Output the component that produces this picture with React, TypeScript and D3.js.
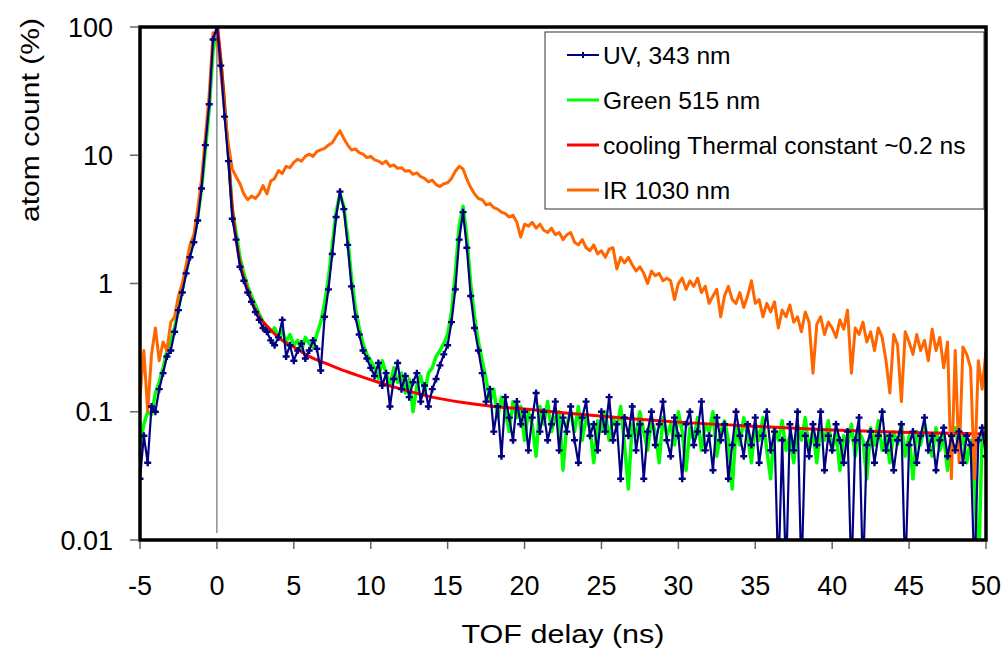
import React from "react";
import * as d3 from "d3";

// sampling grid of the measured traces (ns)
const T_START = -5;
const T_STEP = 0.25;

// UV, 343 nm  (one row per ns: t, t+.25, t+.5, t+.75)
const uv = [
  0.03, 0.065, 0.04, 0.11,
  0.1, 0.15, 0.2, 0.27,
  0.3, 0.42, 0.62, 0.85,
  1.2, 1.6, 2.1, 3.1,
  5.5, 12, 25, 80,
  100, 50, 20, 9,
  3.2, 2.2, 1.35, 1.05,
  0.85, 0.72, 0.6, 0.52,
  0.45, 0.42, 0.36, 0.33,
  0.38, 0.52, 0.27, 0.33,
  0.25, 0.3, 0.34, 0.26,
  0.3, 0.36, 0.31, 0.21,
  0.55, 0.9, 1.7, 3.3,
  5.2, 3.8, 2.0, 0.95,
  0.55, 0.4, 0.3, 0.26,
  0.22, 0.19, 0.24, 0.16,
  0.2, 0.11, 0.18, 0.24,
  0.15, 0.19, 0.13, 0.17,
  0.2, 0.12, 0.16, 0.11,
  0.15, 0.18, 0.23, 0.28,
  0.33, 0.5, 0.9, 2.2,
  3.6, 1.9, 0.8, 0.45,
  0.3, 0.2, 0.12, 0.15,
  0.07, 0.11, 0.045, 0.13,
  0.09, 0.06, 0.12, 0.08,
  0.1, 0.05, 0.09, 0.14,
  0.07, 0.1, 0.06, 0.08,
  0.12, 0.05, 0.09, 0.07,
  0.11, 0.06, 0.04, 0.09,
  0.12, 0.065, 0.08, 0.05,
  0.1, 0.07, 0.13, 0.06,
  0.08, 0.03, 0.09, 0.065,
  0.11, 0.05, 0.08, 0.03,
  0.07, 0.1, 0.055, 0.08,
  0.12, 0.06, 0.045, 0.09,
  0.065, 0.03, 0.08, 0.1,
  0.055, 0.07, 0.12, 0.05,
  0.065, 0.035, 0.09, 0.06,
  0.08, 0.03, 0.055, 0.1,
  0.065, 0.045, 0.08, 0.055,
  0.09, 0.04, 0.065, 0.1,
  0.05, 0.07, 0.005, 0.06,
  0.005, 0.08, 0.05, 0.1,
  0.005, 0.065, 0.045, 0.08,
  0.055, 0.1, 0.035, 0.065,
  0.05, 0.08, 0.06, 0.04,
  0.07, 0.005, 0.06, 0.09,
  0.005, 0.055, 0.07, 0.04,
  0.065, 0.1, 0.05, 0.065,
  0.035, 0.06, 0.08, 0.005,
  0.055, 0.07, 0.04, 0.065,
  0.09, 0.05, 0.065, 0.035,
  0.06, 0.075, 0.045, 0.065,
  0.05, 0.07, 0.04, 0.065,
  0.055, 0.005, 0.06, 0.075,
  0.045,
];

// Green 515 nm
const green = [
  0.055, 0.08, 0.1, 0.095,
  0.14, 0.17, 0.22, 0.3,
  0.36, 0.45, 0.65, 0.9,
  1.25, 1.7, 2.2, 3.3,
  5.5, 11, 23, 65,
  98, 55, 24, 10,
  3.8, 2.5, 1.6, 1.2,
  0.95, 0.8, 0.68, 0.58,
  0.5, 0.46, 0.42, 0.45,
  0.38, 0.43, 0.35, 0.4,
  0.33, 0.36, 0.3, 0.38,
  0.34, 0.32, 0.4, 0.5,
  0.7, 1.1, 2.0, 3.6,
  5.0, 4.0, 2.3, 1.1,
  0.65, 0.45, 0.34, 0.28,
  0.25, 0.22, 0.18, 0.25,
  0.2, 0.16, 0.22, 0.17,
  0.2, 0.14, 0.18, 0.1,
  0.16, 0.19, 0.14, 0.2,
  0.22, 0.27, 0.3, 0.34,
  0.4, 0.6, 1.2, 2.8,
  4.0, 2.3, 1.0, 0.55,
  0.35, 0.25, 0.18, 0.12,
  0.15, 0.09, 0.13, 0.1,
  0.07, 0.12, 0.09, 0.11,
  0.06, 0.1, 0.08, 0.045,
  0.11, 0.08, 0.12, 0.07,
  0.09, 0.1, 0.035, 0.08,
  0.1, 0.07, 0.11, 0.06,
  0.09, 0.075, 0.04, 0.085,
  0.07, 0.1, 0.06, 0.09,
  0.075, 0.11, 0.055, 0.025,
  0.08, 0.065, 0.1, 0.07,
  0.05, 0.085, 0.07, 0.04,
  0.09, 0.065, 0.08, 0.055,
  0.1, 0.07, 0.035, 0.075,
  0.06, 0.09, 0.05, 0.08,
  0.07, 0.1, 0.045, 0.07,
  0.085, 0.06, 0.025, 0.075,
  0.055, 0.09, 0.065, 0.04,
  0.08, 0.06, 0.09, 0.05,
  0.03, 0.075, 0.06, 0.085,
  0.05, 0.065, 0.04, 0.08,
  0.06, 0.09, 0.05, 0.07,
  0.04, 0.075, 0.06, 0.085,
  0.05, 0.07, 0.035, 0.065,
  0.055, 0.08, 0.045, 0.07,
  0.06, 0.03, 0.075, 0.055,
  0.085, 0.05, 0.065, 0.04,
  0.07, 0.055, 0.08, 0.045,
  0.065, 0.03, 0.07, 0.055,
  0.08, 0.06, 0.045, 0.075,
  0.05, 0.065, 0.035, 0.06,
  0.075, 0.05, 0.065, 0.04,
  0.06, 0.03, 0.005, 0.065,
  0.07,
];

// IR 1030 nm
const ir = [
  0.13, 0.3, 0.1, 0.28,
  0.45, 0.25, 0.35, 0.3,
  0.5, 0.55, 0.8, 1.0,
  1.4, 2.0, 2.4, 3.8,
  6.5, 14, 30, 90,
  85, 45, 22, 12,
  7.8, 6.8, 6.0, 5.0,
  4.5, 4.8, 4.6, 5.0,
  5.8, 5.0, 6.3, 6.6,
  7.6, 7.2, 8.2, 8.0,
  8.8, 9.3, 9.0, 9.8,
  10.2, 9.8, 10.7, 11,
  11.3, 12, 12.5, 14,
  15.5, 13.5, 12, 11,
  11.2, 10.5, 10.2, 9.6,
  9.8, 9.2, 9.0, 8.6,
  9.0, 8.2, 8.4, 7.9,
  8.0, 7.5, 7.6, 7.1,
  7.3, 6.8, 6.6, 6.2,
  6.4, 5.9, 5.7, 6.0,
  6.1, 6.6, 7.5, 8.2,
  7.8, 6.5, 5.6, 5.0,
  4.6, 4.5, 4.1, 4.2,
  3.9, 3.8, 3.6, 3.5,
  3.3, 3.4, 3.0, 2.3,
  2.9, 2.8, 3.0, 2.7,
  2.9, 2.6, 2.5, 2.7,
  2.4, 2.5, 2.2, 2.4,
  2.5, 2.1, 2.0, 2.2,
  1.9, 1.8, 2.0, 1.7,
  1.8, 1.6, 1.85, 1.9,
  1.3, 1.6, 1.45, 1.6,
  1.4, 1.25, 1.35, 1.2,
  1.0, 1.25, 1.15, 1.2,
  1.05, 1.1, 1.05, 0.75,
  1.0, 1.1, 0.9, 1.05,
  0.95, 1.1, 0.85, 0.95,
  0.7, 0.8, 0.9, 0.55,
  0.8, 0.95, 0.75, 0.7,
  0.85, 0.65, 0.8, 1.05,
  0.7, 0.75, 0.55, 0.7,
  0.6, 0.72, 0.45, 0.62,
  0.55, 0.68, 0.5, 0.55,
  0.42, 0.6, 0.5, 0.2,
  0.48, 0.55, 0.4, 0.5,
  0.45, 0.38, 0.52, 0.44,
  0.62, 0.2, 0.45, 0.4,
  0.5, 0.35, 0.42, 0.3,
  0.45, 0.38, 0.25, 0.14,
  0.4, 0.33, 0.12, 0.42,
  0.35, 0.28, 0.4, 0.3,
  0.36, 0.25, 0.44, 0.3,
  0.38, 0.22, 0.35, 0.03,
  0.3, 0.04, 0.32, 0.28,
  0.22, 0.03, 0.25, 0.15,
  0.3,
];

// cooling fit curve
const fitT = [0.05, 0.15, 0.3, 0.45, 0.6, 0.75, 0.9, 1.05, 1.25, 1.5, 1.75, 2, 2.4, 2.8, 3.3, 3.8, 4.4, 5, 6, 7, 8, 9, 10.5, 12, 14, 16, 18, 20, 23, 26, 30, 35, 40, 45, 50];
const fitV = [100, 75, 48, 30, 17, 10, 5.3, 3.4, 2.2, 1.45, 1.1, 0.9, 0.66, 0.54, 0.46, 0.4, 0.35, 0.32, 0.27, 0.24, 0.215, 0.195, 0.17, 0.15, 0.13, 0.118, 0.11, 0.105, 0.097, 0.09, 0.083, 0.077, 0.072, 0.069, 0.067];

const xTicks = [-5, 0, 5, 10, 15, 20, 25, 30, 35, 40, 45, 50];
const yTicks = [100, 10, 1, 0.1, 0.01];
const yTickLabels = ["100", "10", "1", "0.1", "0.01"];

const legendItems = [
  { label: "UV, 343 nm", color: "#000080", marker: true },
  { label: "Green 515 nm", color: "#00FF00", marker: false },
  { label: "cooling Thermal constant ~0.2 ns", color: "#FF0000", marker: false },
  { label: "IR 1030 nm", color: "#FF6600", marker: false },
];

const W = 1003;
const H = 650;
const L = 140, R = 986, T = 27, B = 540;
const FONT = "'Liberation Sans', Arial, sans-serif";

type P = [number, number];

function series(vals: number[]): P[] {
  return vals.map((v, i) => [T_START + i * T_STEP, v] as P);
}

export default function App() {
  const x = d3.scaleLinear().domain([-5, 50]).range([L, R]);
  const y = d3.scaleLog().domain([0.01, 100]).range([B, T]);
  const line = d3
    .line<P>()
    .x((d) => x(d[0]))
    .y((d) => y(d[1]));

  const uvPts = series(uv);
  const greenPts = series(green);
  const irPts = series(ir);
  const fitPts: P[] = fitT.map((t, i) => [t, fitV[i]] as P);
  const fitLine = d3
    .line<P>()
    .x((d) => x(d[0]))
    .y((d) => y(d[1]))
    .curve(d3.curveMonotoneX);

  return (
    <svg
      width={W}
      height={H}
      style={{ position: "absolute", left: 0, top: 0, background: "#fff" }}
      fontFamily={FONT}
    >
      <defs>
        <clipPath id="plotClip">
          <rect x={L} y={T} width={R - L} height={B - T} />
        </clipPath>
      </defs>
      <rect x={0} y={0} width={W} height={H} fill="#fff" />

      {/* zero line */}
      <line x1={x(0)} x2={x(0)} y1={T} y2={533} stroke="#555" strokeWidth={1} />

      <g clipPath="url(#plotClip)">
        <path d={line(greenPts) || ""} fill="none" stroke="#00FF00" strokeWidth={3.5} strokeLinejoin="round" />
        <path d={fitLine(fitPts) || ""} fill="none" stroke="#FF0000" strokeWidth={3} strokeLinejoin="round" />
        <path d={line(irPts) || ""} fill="none" stroke="#FF6600" strokeWidth={3} strokeLinejoin="round" />
        <path d={line(uvPts) || ""} fill="none" stroke="#000080" strokeWidth={2.2} strokeLinejoin="round" />
        {uvPts.map((d, i) => {
          const cx = x(d[0]);
          const cy = y(d[1]);
          return (
            <path
              key={i}
              d={`M${cx - 3.5},${cy}H${cx + 3.5}M${cx},${cy - 3.5}V${cy + 3.5}`}
              stroke="#000080"
              strokeWidth={2.4}
            />
          );
        })}
      </g>

      {/* legend */}
      <rect x={545} y={32} width={439} height={177} fill="#fff" stroke="#333" strokeWidth={1} />
      {legendItems.map((it, i) => {
        const cy = 55 + i * 45;
        return (
          <g key={it.label}>
            <line x1={567} x2={599} y1={cy} y2={cy} stroke={it.color} strokeWidth={it.marker ? 2 : 3} />
            {it.marker && (
              <path d={`M583,${cy - 3}V${cy + 3}`} stroke={it.color} strokeWidth={2} />
            )}
            <text x={603} y={cy} dy="0.35em" fontSize={24.6} fill="#000">
              {it.label}
            </text>
          </g>
        );
      })}

      {/* frame */}
      <rect x={L} y={T} width={R - L} height={B - T} fill="none" stroke="#000" strokeWidth={3.5} />

      {/* y ticks */}
      {yTicks.map((v, i) => (
        <g key={v}>
          <line x1={130} x2={L - 2} y1={y(v)} y2={y(v)} stroke="#666" strokeWidth={1.5} />
          <text x={113} y={y(v)} dy="0.36em" textAnchor="end" fontSize={27} fill="#000">
            {yTickLabels[i]}
          </text>
        </g>
      ))}

      {/* x ticks */}
      {xTicks.map((v) => (
        <g key={v}>
          <line x1={x(v)} x2={x(v)} y1={B + 2} y2={549} stroke="#666" strokeWidth={1.5} />
          <text x={x(v)} y={585} dy="0.36em" textAnchor="middle" fontSize={27} fill="#000">
            {v}
          </text>
        </g>
      ))}

      <text x={563} y={643} textAnchor="middle" fontSize={26} fill="#000" textLength={203} lengthAdjust="spacingAndGlyphs">
        TOF delay (ns)
      </text>
      <text
        transform={`translate(30,120) rotate(-90)`}
        textAnchor="middle"
        dy="0.35em"
        fontSize={26}
        fill="#000"
        textLength={204}
        lengthAdjust="spacingAndGlyphs"
      >
        atom count (%)
      </text>
    </svg>
  );
}
